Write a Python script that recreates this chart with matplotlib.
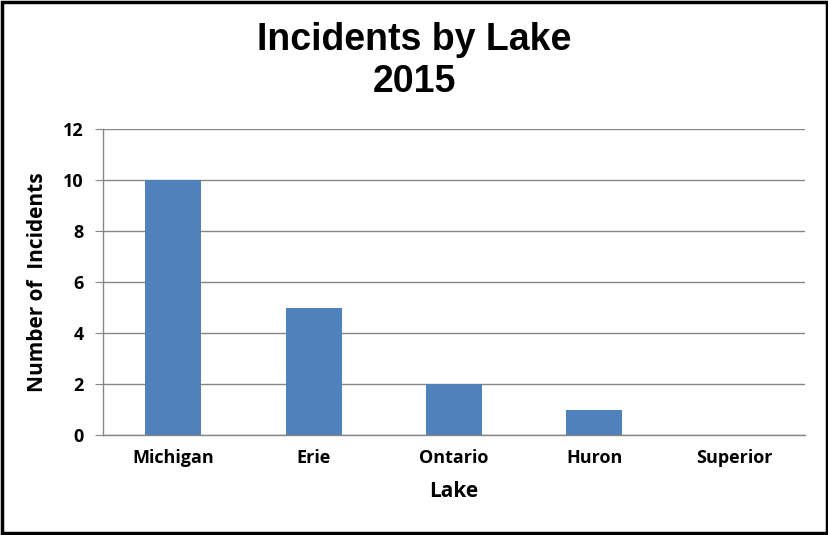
import matplotlib.pyplot as plt
from matplotlib.patches import Rectangle

# data
lakes = ['Michigan', 'Erie', 'Ontario', 'Huron', 'Superior']
incidents = [10, 5, 2, 1, 0]

fig = plt.figure(figsize=(8.29, 5.35), dpi=100)
ax = fig.add_axes([103 / 829, 100 / 535, 702 / 829, 306 / 535])

ax.bar(range(len(lakes)), incidents, width=0.4, color='#4f81bd', zorder=2)
ax.set_xlim(-0.5, len(lakes) - 0.5)
ax.set_ylim(0, 12)
ax.set_yticks(range(0, 13, 2))
ax.set_xticks(range(len(lakes)))
ax.set_xticklabels(lakes)

# gridlines and axis styling
ax.grid(axis='y', color='#868686', linewidth=1, zorder=1)
for side in ['top', 'right']:
    ax.spines[side].set_visible(False)
for side in ['left', 'bottom']:
    ax.spines[side].set_color('#868686')
    ax.spines[side].set_linewidth(1)
ax.tick_params(axis='y', length=6, color='#868686', pad=8)
ax.tick_params(axis='x', length=0, pad=10)
for lbl in ax.get_xticklabels() + ax.get_yticklabels():
    lbl.set_fontfamily('Open Sans')
    lbl.set_fontweight('bold')
    lbl.set_fontsize(13)

ax.set_xlabel('Lake', fontfamily='Open Sans', fontweight='bold', fontsize=15, labelpad=10)
ax.set_ylabel('Number of  Incidents', fontfamily='Open Sans', fontweight='bold',
              fontsize=15, labelpad=11)

fig.text(0.5, 0.886, 'Incidents by Lake\n2015', ha='center', va='center',
         fontfamily='Liberation Sans', fontweight='bold', fontsize=27, linespacing=1.2)

# black frame around the whole chart
fig.patches.append(Rectangle((0.002, 0.003), 0.996, 0.994, transform=fig.transFigure,
                             fill=False, edgecolor='black', linewidth=2.5))

fig.savefig('out.png', dpi=100)
